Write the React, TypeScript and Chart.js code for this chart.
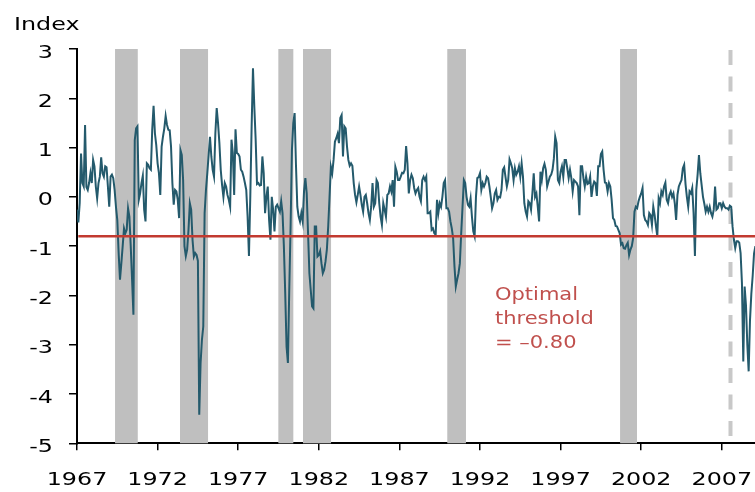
import React, { useEffect, useRef } from "react";
import { Chart, registerables } from "chart.js";

Chart.register(...registerables);

// ---- Data (monthly index values, starting January 1967) ----
const firstYear = 1967;

const index1967to1971 = [
  -0.26, -0.52, -0.13, 0.88, 0.28, 0.21, 1.46, 0.2, 0.14, 0.28, 0.48, 0.28,
  0.75, 0.62, 0.21, -0.03, 0.28, 0.41, 0.8, 0.48, 0.41, 0.62, 0.6, 0.21,
  -0.2, 0.41, 0.45, 0.38, 0.14, -0.2, -0.47, -1.14, -1.68, -1.35, -1.0, -0.64,
  -0.74, -0.67, -0.23, -0.4, -1.0, -1.68, -2.39, 1.15, 1.39, 1.43, -0.06, 0.07,
  0.28, 0.43, -0.26, -0.5, 0.68, 0.65, 0.58, 0.55, 1.36, 1.85, 1.29, 1.05,
];
const index1972to1976 = [
  0.68, 0.48, 0.04, 1.02, 1.22, 1.39, 1.64, 1.46, 1.36, 1.35, 1.02, 0.28,
  -0.16, 0.14, 0.11, -0.06, -0.43, 0.95, 0.85, 0.34, -1.0, -1.2, -1.07, -0.67,
  -0.13, -0.26, -0.87, -1.21, -1.14, -1.18, -1.3, -4.42, -3.37, -2.9, -2.63, -0.33,
  0.14, 0.48, 0.85, 1.22, 0.82, 0.55, 0.41, 1.29, 1.8, 1.49, 1.09, 0.55,
  0.24, 0.0, 0.28, 0.21, 0.04, -0.06, -0.2, 1.16, 0.89, 0.04, 1.37, 0.89,
];
const index1977to1981 = [
  0.87, 0.82, 0.55, 0.51, 0.41, 0.28, 0.14, -0.4, -1.2, 0.0, 1.43, 2.61,
  1.83, 1.16, 0.26, 0.28, 0.23, 0.24, 0.82, 0.48, -0.33, 0.0, 0.21, -0.47,
  -0.87, 0.0, -0.26, -0.7, -0.2, -0.16, -0.23, -0.3, -0.09, -0.33, -1.0, -1.95,
  -3.04, -3.37, -1.89, -0.6, 0.95, 1.49, 1.7, 0.65, -0.2, -0.4, -0.5, -0.33,
  -0.5, 0.11, 0.38, 0.07, -0.74, -1.55, -1.89, -2.22, -2.26, -0.6, -0.6, -1.21,
];
const index1982to1986 = [
  -1.18, -1.1, -1.35, -1.55, -1.48, -1.31, -1.07, -0.6, 0.0, 0.61, 0.48, 0.75,
  1.12, 1.19, 1.28, 1.09, 1.6, 1.66, 0.82, 1.43, 1.39, 1.02, 0.75, 0.63,
  0.68, 0.63, 0.28, 0.04, -0.11, 0.04, 0.21, 0.04, -0.16, -0.3, 0.0, 0.04,
  -0.13, -0.33, -0.47, -0.2, 0.28, -0.2, -0.13, 0.34, 0.28, -0.13, -0.4, -0.57,
  -0.13, -0.26, -0.4, 0.04, 0.07, 0.21, 0.11, 0.34, -0.2, 0.61, 0.51, 0.34,
];
const index1987to1991 = [
  0.34, 0.41, 0.49, 0.48, 0.55, 1.03, 0.68, 0.07, 0.34, 0.45, 0.38, 0.18,
  0.07, 0.14, 0.18, 0.0, -0.09, 0.34, 0.41, 0.34, 0.41, -0.33, -0.33, -0.3,
  -0.67, -0.64, -0.74, -0.77, -0.06, -0.33, -0.13, -0.2, 0.0, 0.28, 0.34, -0.23,
  -0.23, -0.3, -0.5, -0.64, -0.84, -1.41, -1.82, -1.68, -1.55, -1.35, -0.74, -0.2,
  0.34, 0.28, 0.0, -0.16, -0.2, -0.03, -0.4, -0.7, -0.8, 0.0, 0.38, 0.4,
];
const index1992to1996 = [
  0.48, 0.14, 0.28, 0.21, 0.28, 0.41, 0.38, 0.21, 0.0, -0.23, -0.13, 0.07,
  0.14, -0.06, 0.0, -0.01, 0.14, 0.55, 0.6, 0.4, 0.21, 0.34, 0.76, 0.68,
  0.58, 0.34, 0.58, 0.45, 0.51, 0.62, 0.41, 0.68, 0.41, -0.13, -0.3, -0.4,
  -0.09, -0.13, -0.26, 0.07, 0.48, 0.0, 0.07, -0.2, -0.5, 0.51, 0.34, 0.58,
  0.67, 0.55, 0.21, 0.31, 0.41, 0.45, 0.55, 0.78, 1.22, 1.09, 0.34, 0.28,
];
const index1997to2001 = [
  0.51, 0.62, 0.41, 0.75, 0.75, 0.58, 0.38, 0.55, 0.38, 0.11, 0.34, 0.31,
  0.28, 0.21, -0.37, 0.62, 0.62, 0.38, 0.21, 0.41, 0.26, 0.28, 0.41, 0.0,
  0.21, 0.31, 0.28, 0.02, 0.62, 0.62, 0.87, 0.92, 0.55, 0.29, 0.28, 0.11,
  0.28, 0.21, -0.06, -0.43, -0.47, -0.59, -0.6, -0.67, -0.74, -0.97, -0.94, -1.04,
  -1.05, -0.98, -0.93, -1.18, -1.07, -1.0, -0.84, -0.3, -0.2, -0.23, -0.09, 0.0,
];
const index2002to2006 = [
  0.07, 0.18, -0.37, -0.47, -0.5, -0.57, -0.33, -0.37, -0.57, -0.2, -0.37, -0.6,
  -0.8, -0.03, -0.13, 0.11, 0.04, 0.21, 0.29, -0.06, -0.13, 0.04, 0.11, 0.0,
  0.07, -0.13, -0.47, 0.04, 0.21, 0.28, 0.34, 0.58, 0.65, 0.26, 0.0, -0.2,
  0.11, 0.07, 0.18, -0.33, -1.2, 0.14, 0.45, 0.85, 0.48, 0.24, 0.0, -0.14,
  -0.3, -0.2, -0.3, -0.2, -0.33, -0.4, -0.26, 0.21, -0.26, -0.23, -0.13, -0.13,
];
const index2007to2009 = [
  -0.23, -0.13, -0.2, -0.23, -0.23, -0.26, -0.18, -0.2, -0.6, -0.87, -1.04, -0.9,
  -0.9, -0.93, -1.14, -1.75, -3.34, -1.82, -2.2, -3.0, -3.54, -2.5, -1.96, -1.6,
  -1.15, -1.0,
];

const xTickYears = [1967, 1972, 1977, 1982, 1987, 1992, 1997, 2002, 2007];
const xMin = 1967;
const xMax = 2009.06;
const yMin = -5;
const yMax = 3;

const threshold = -0.8;
const thresholdNote = ["Optimal", "threshold", "= \u20130.80"];
const axisTitle = "Index";

// shaded recession periods (decimal years as placed in the chart)
const recessionStarts = [1969.36, 1973.39, 1979.49, 1981.02, 1989.97, 2000.69];
const recessionEnds = [1970.77, 1975.13, 1980.42, 1982.76, 1991.13, 2001.74];
const markerYear = 2007.54;

// ---- Styling ----
const FONT = "DejaVu Sans";
const TICK_STRETCH = 1.36;
const NOTE_STRETCH = 1.2;

const stretchTextPlugin = {
  id: "stretchText",
  beforeInit(chart: any) {
    const ctx = chart.ctx as any;
    if (ctx.__patched) return;
    ctx.__patched = true;
    ctx.__sx = TICK_STRETCH;
    const orig = ctx.fillText.bind(ctx);
    ctx.fillText = (text: string, x: number, y: number, maxWidth?: number) => {
      const sx = ctx.__sx || 1;
      ctx.save();
      ctx.translate(x, y);
      ctx.scale(sx, 1);
      if (maxWidth !== undefined && maxWidth !== null) orig(text, 0, 0, maxWidth / sx);
      else orig(text, 0, 0);
      ctx.restore();
    };
  },
};

const shadingPlugin = {
  id: "shading",
  beforeDatasetsDraw(chart: any) {
    const { ctx, chartArea, scales } = chart;
    const xs = scales.x;
    ctx.save();
    ctx.fillStyle = "#bfbfbf";
    recessionStarts.forEach((s, i) => {
      const x0 = xs.getPixelForValue(s);
      const x1 = xs.getPixelForValue(recessionEnds[i]);
      ctx.fillRect(x0, chartArea.top, x1 - x0, chartArea.bottom - chartArea.top);
    });
    const xm = xs.getPixelForValue(markerYear);
    ctx.strokeStyle = "#c8c8c8";
    ctx.lineWidth = 4;
    ctx.setLineDash([15, 11.5]);
    ctx.beginPath();
    ctx.moveTo(xm, chartArea.top + 1);
    ctx.lineTo(xm, chartArea.bottom - 6);
    ctx.stroke();
    ctx.restore();
  },
  afterDraw(chart: any) {
    const { ctx, scales } = chart;
    const ys = scales.y;
    const xs = scales.x;
    ctx.save();
    ctx.font = `17.5px "${FONT}"`;
    ctx.textAlign = "left";
    ctx.textBaseline = "alphabetic";
    ctx.fillStyle = "#000000";
    (ctx as any).__sx = TICK_STRETCH;
    ctx.fillText(axisTitle, 14, ys.getPixelForValue(yMax) - 19);

    (ctx as any).__sx = NOTE_STRETCH;
    ctx.fillStyle = "#c0504d";
    const nx = xs.getPixelForValue(1992.93);
    const ny = ys.getPixelForValue(-2.09);
    thresholdNote.forEach((line, i) => {
      ctx.fillText(line, nx, ny + i * 24);
    });
    (ctx as any).__sx = TICK_STRETCH;
    ctx.restore();
  },
};

export default function App() {
  const ref = useRef<HTMLCanvasElement | null>(null);

  useEffect(() => {
    document.body.style.margin = "0";
    const canvas = ref.current;
    if (!canvas) return;

    const series = [
      ...index1967to1971,
      ...index1972to1976,
      ...index1977to1981,
      ...index1982to1986,
      ...index1987to1991,
      ...index1992to1996,
      ...index1997to2001,
      ...index2002to2006,
      ...index2007to2009,
    ];
    const points = series.map((v, i) => ({ x: firstYear + i / 12, y: v }));

    const chart = new Chart(canvas, {
      type: "line",
      data: {
        datasets: [
          {
            label: "Index",
            data: points,
            borderColor: "#245a6c",
            borderWidth: 2,
            pointRadius: 0,
            tension: 0,
            fill: false,
            order: 2,
          },
          {
            label: "Threshold",
            data: [
              { x: xMin + 0.08, y: threshold },
              { x: xMax, y: threshold },
            ],
            borderColor: "#c23a30",
            borderWidth: 2.5,
            pointRadius: 0,
            fill: false,
            order: 1,
          },
        ],
      },
      options: {
        animation: false,
        responsive: false,
        maintainAspectRatio: false,
        layout: { padding: { top: 49, right: 0, bottom: 0, left: 0 } },
        plugins: {
          legend: { display: false },
          tooltip: { enabled: false },
        },
        scales: {
          x: {
            type: "linear",
            min: xMin,
            max: xMax,
            afterBuildTicks: (s: any) => {
              s.ticks = xTickYears.map((v) => ({ value: v }));
            },
            afterFit: (s: any) => {
              s.height = 48.7;
              s.paddingLeft = 0;
              s.paddingRight = 0;
            },
            grid: {
              drawOnChartArea: false,
              drawTicks: true,
              tickLength: 7,
              color: "#000000",
              lineWidth: 1.5,
            },
            border: { display: true, color: "#000000", width: 2 },
            ticks: {
              color: "#000000",
              font: { family: FONT, size: 17.5 },
              padding: 20,
              maxRotation: 0,
              autoSkip: false,
              callback: (v: any) => String(v),
            },
          },
          y: {
            type: "linear",
            min: yMin,
            max: yMax,
            afterFit: (s: any) => {
              s.width = 77;
              s.paddingTop = 0;
              s.paddingBottom = 0;
            },
            grid: {
              drawOnChartArea: false,
              drawTicks: true,
              tickLength: 8,
              color: "#000000",
              lineWidth: 1.5,
            },
            border: { display: true, color: "#000000", width: 2 },
            ticks: {
              stepSize: 1,
              color: "#000000",
              font: { family: FONT, size: 17.5 },
              padding: 16,
              labelOffset: 4,
              callback: (v: any) => String(v),
            },
          },
        },
      },
      plugins: [stretchTextPlugin, shadingPlugin],
    } as any);

    return () => chart.destroy();
  }, []);

  return (
    <div style={{ width: 755, height: 492 }}>
      <canvas ref={ref} width={755} height={492} style={{ display: "block" }} />
    </div>
  );
}
